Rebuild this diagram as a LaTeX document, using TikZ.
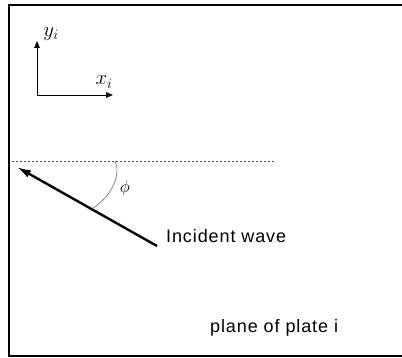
\documentclass[tikz,border=0pt]{standalone}
\usepackage{fontspec}
\setmainfont{Liberation Sans}
\usetikzlibrary{arrows.meta}
\tikzset{
  pl/frame/.style={line width=2.4pt, draw=black},
  pl/axis/.style={-{Triangle[length=7pt,width=5.5pt]}, line width=0.9pt},
  pl/wave/.style={-{Latex[length=14pt,width=8pt]}, line width=2.4pt},
  pl/ref/.style={dash pattern=on 2pt off 2pt, line width=0.5pt, draw=black!70},
  pl/angle/.style={line width=0.6pt, draw=black!60},
  pl/label/.style={font=\fontsize{18}{21}\selectfont\addfontfeature{LetterSpace=5}, anchor=west, inner sep=0pt},
  pl/math/.style={font=\fontsize{21}{24}\selectfont, inner sep=0pt}
}
\begin{document}
\begin{tikzpicture}[x=1pt,y=-1pt]
  \useasboundingbox (0,0) rectangle (402,358);
  % frame
  \draw[pl/frame] (402,5) -- (9,5) -- (9,356) -- (402,356);
  % local axes
  \coordinate (o) at (37,95);
  \coordinate (xe) at (113,95);
  \coordinate (ye) at (37,41);
  \draw[pl/axis] (o) -- (ye);
  \draw[pl/axis] (o) -- (xe);
  \node[pl/math] (yl) at (51,34) {$y_i$};
  \node[pl/math] (xl) at (104,82) {$x_i$};
  % reference line and wave
  \coordinate (dl) at (12,161);
  \coordinate (dr) at (275,161);
  \draw[pl/ref] (dl) -- (dr);
  \coordinate (wt) at (157,246);
  \coordinate (wh) at (17,167);
  \draw[pl/wave] (wt) -- (wh);
  % angle
  \coordinate (a1) at (115,161);
  \coordinate (a2) at (93,208);
  \draw[pl/angle] (a1) .. controls (121,174) and (113,195) .. (a2);
  \node[pl/math, font=\fontsize{18}{20}\selectfont] (phi) at (125,188) {$\phi$};
  \node[pl/label] (inc) at (166,236) {Incident wave};
  \node[pl/label] (pln) at (210,328) {plane of plate i};
\end{tikzpicture}
\end{document}
